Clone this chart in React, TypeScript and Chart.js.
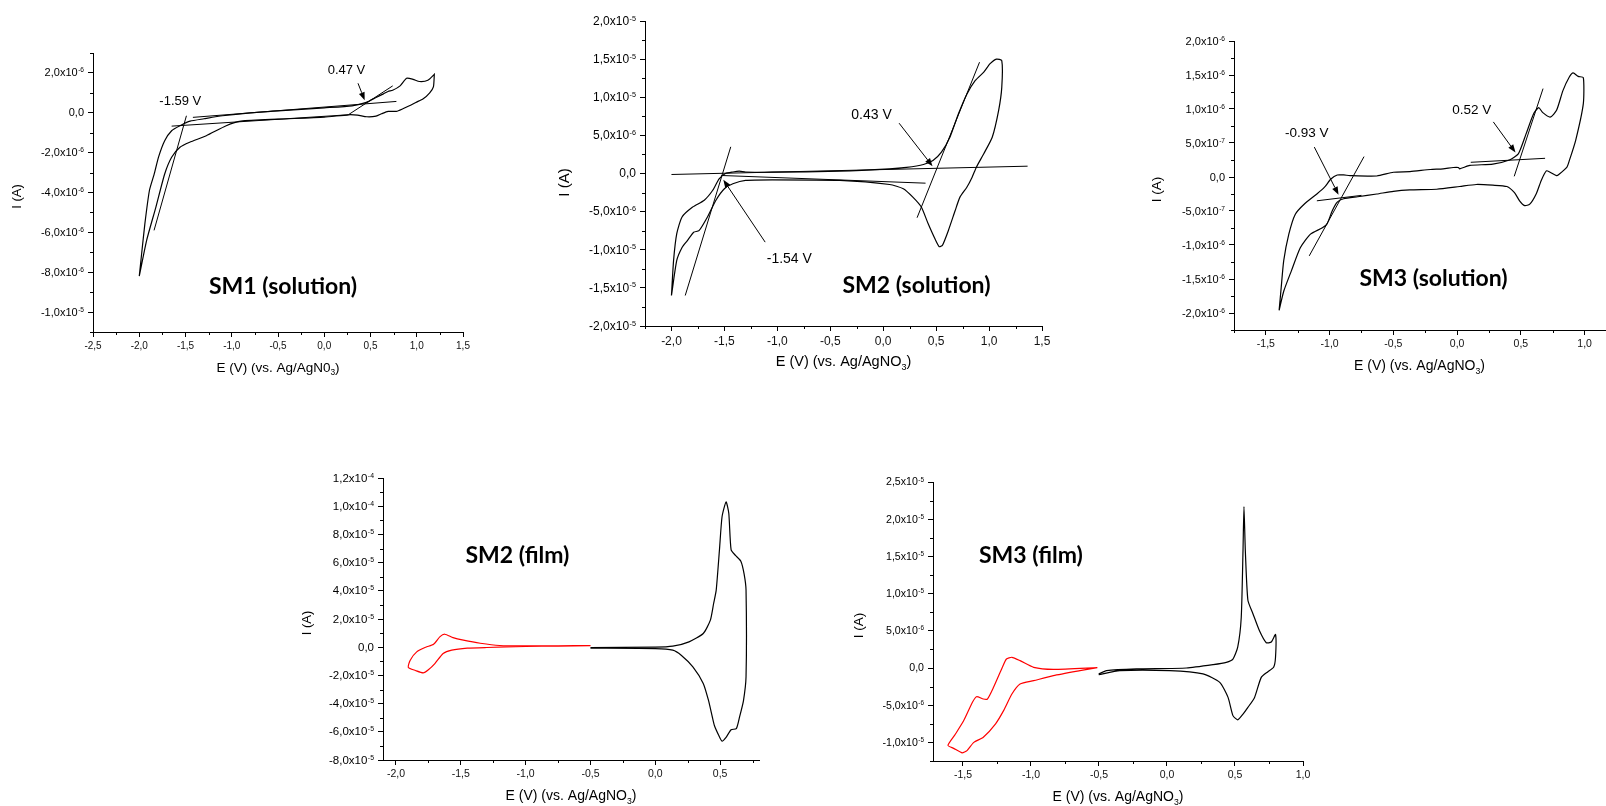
import React, { useEffect, useRef } from "react";
import { Chart, registerables } from "chart.js";
Chart.register(...registerables);

const UA = 1e-6; // data currents are stored in µA

// ---------- SM1 (solution) ----------
const SM1_E = [-2.0, -1.977, -1.94, -1.89, -1.84, -1.79, -1.725, -1.65, -1.56, -1.45, -1.3, -1.1, -0.8, -0.5, 0.0, 0.3, 0.455, 0.56, 0.64, 0.69, 0.74, 0.82, 0.89, 0.96, 1.03, 1.12, 1.19,
  1.19, 1.18, 1.14, 1.07, 0.99, 0.92, 0.85, 0.78, 0.69, 0.62, 0.56, 0.46, 0.36, 0.26, 0.0, -0.5, -0.9, -1.06, -1.275, -1.455, -1.56, -1.65, -1.725, -1.82, -1.92, -2.0];
const SM1_I = [-8.2, -7.2, -5.6, -3.9, -3.1, -2.2, -1.4, -0.9, -0.65, -0.42, -0.3, -0.15, 0.0, 0.1, 0.25, 0.35, 0.52, 0.77, 0.95, 1.07, 1.13, 1.35, 1.73, 1.68, 1.57, 1.63, 1.93,
  1.93, 1.3, 1.0, 0.7, 0.52, 0.35, 0.2, 0.07, 0.07, -0.05, -0.17, -0.2, -0.12, -0.1, -0.22, -0.32, -0.42, -0.65, -1.15, -1.48, -1.73, -2.23, -3.07, -4.73, -6.4, -8.2];
const SM1_TAN_E = [[-1.42, 0.78], [-1.65, 0.26], [-1.49, -1.84], [0.26, 0.74]];
const SM1_TAN_I = [[-0.23, 0.57], [-0.67, -0.1], [-0.15, -5.9], [-0.1, 1.35]];
const SM1_XTICKS = [-2.5, -2.0, -1.5, -1.0, -0.5, 0.0, 0.5, 1.0, 1.5];
const SM1_YTICKS = [-10, -8, -6, -4, -2, 0, 2];

// ---------- SM2 (solution) ----------
const SM2_E = [-2.0, -1.98, -1.95, -1.9, -1.8, -1.69, -1.61, -1.55, -1.49, -1.42, -1.36, -1.3, -1.05, -0.41, 0.06, 0.22, 0.38, 0.47, 0.55, 0.63, 0.71, 0.79, 0.87, 0.95, 1.01, 1.07, 1.12,
  1.12, 1.09, 1.03, 0.95, 0.88, 0.84, 0.79, 0.725, 0.68, 0.615, 0.56, 0.53, 0.49, 0.425, 0.36, 0.28, 0.19, 0.06, -0.41, -1.05, -1.3, -1.42, -1.5, -1.58, -1.66, -1.74, -1.79, -1.85, -1.9, -1.95, -2.0];
const SM2_I = [-16.0, -11.4, -7.9, -5.7, -4.4, -3.5, -2.2, -0.7, 0.0, 0.2, 0.3, 0.2, 0.17, 0.3, 0.6, 0.8, 1.18, 1.7, 2.8, 4.76, 7.8, 10.4, 12.2, 13.3, 14.4, 15.0, 14.8,
  11.3, 8.25, 4.76, 2.6, 0.83, -0.48, -1.8, -3.1, -4.85, -7.5, -9.4, -9.6, -8.6, -6.6, -4.4, -3.1, -2.0, -1.44, -0.9, -0.83, -0.9, -1.35, -2.0, -3.5, -5.7, -7.5, -7.7, -8.8, -9.7, -11.4, -16.0];
const SM2_TAN_E = [[-2.0, 1.364], [-1.53, 0.4], [-1.87, -1.44], [0.32, 0.91]];
const SM2_TAN_I = [[-0.13, 0.96], [-0.26, -1.27], [-16.0, 3.5], [-5.8, 14.6]];
const SM2_XTICKS = [-2.0, -1.5, -1.0, -0.5, 0.0, 0.5, 1.0, 1.5];
const SM2_YTICKS = [-20, -15, -10, -5, 0, 5, 10, 15, 20];

// ---------- SM3 (solution) ----------
const SM3_E = [-1.396, -1.38, -1.36, -1.32, -1.27, -1.2, -1.1, -1.04, -0.99, -0.94, -0.89, -0.84, -0.63, -0.5, -0.37, -0.21, -0.11, -0.03, 0.01, 0.02, 0.1, 0.28, 0.41, 0.48, 0.54, 0.6, 0.64, 0.67, 0.73, 0.78, 0.83, 0.88, 0.91, 0.95, 0.99,
  0.99, 0.93, 0.88, 0.86, 0.8, 0.78, 0.73, 0.7, 0.66, 0.62, 0.57, 0.53, 0.49, 0.45, 0.39, 0.28, 0.15, 0.02, -0.16, -0.37, -0.5, -0.63, -0.78, -0.89, -0.94, -0.98, -1.02, -1.06, -1.15, -1.23, -1.3, -1.36, -1.396];
const SM3_I = [-1.96, -1.63, -1.23, -0.84, -0.55, -0.4, -0.25, -0.15, -0.03, 0.03, 0.03, 0.02, 0.015, 0.07, 0.08, 0.11, 0.12, 0.14, 0.14, 0.12, 0.17, 0.19, 0.25, 0.34, 0.63, 0.93, 1.02, 0.95, 0.88, 0.98, 1.27, 1.47, 1.53, 1.48, 1.46,
  1.08, 0.54, 0.24, 0.14, 0.04, 0.02, 0.07, 0.09, -0.05, -0.25, -0.4, -0.42, -0.35, -0.23, -0.14, -0.12, -0.11, -0.14, -0.18, -0.19, -0.21, -0.25, -0.29, -0.32, -0.37, -0.5, -0.69, -0.75, -0.84, -1.04, -1.38, -1.68, -1.96];
const SM3_TAN_E = [[-1.1, -0.75], [-1.16, -0.73], [0.107, 0.69], [0.448, 0.674]];
const SM3_TAN_I = [[-0.35, -0.27], [-1.16, 0.3], [0.216, 0.275], [0.01, 1.3]];
const SM3_XTICKS = [-1.5, -1.0, -0.5, 0.0, 0.5, 1.0];
const SM3_YTICKS = [-2.0, -1.5, -1.0, -0.5, 0.0, 0.5, 1.0, 1.5, 2.0];

// ---------- SM2 (film) ----------
const SM2F_RED_E = [-0.5, -0.75, -1.0, -1.2, -1.35, -1.48, -1.56, -1.623, -1.66, -1.71, -1.77, -1.84, -1.89, -1.905, -1.85, -1.79, -1.75, -1.7, -1.636, -1.57, -1.45, -1.3, -1.0, -0.75, -0.5];
const SM2F_RED_I = [1.2, 1.0, 0.9, 1.2, 2.8, 5.0, 6.8, 9.2, 7.5, 2.1, 0.0, -3.3, -9.2, -14.4, -16.5, -18.2, -16.0, -11.6, -4.5, -2.1, -0.7, -0.2, 0.5, 0.8, 0.9];
const SM2F_BLK_E = [-0.5, 0.0, 0.135, 0.26, 0.37, 0.425, 0.45, 0.47, 0.495, 0.515, 0.546, 0.567, 0.585, 0.62, 0.66, 0.685, 0.7, 0.7, 0.68, 0.65, 0.625, 0.585, 0.546, 0.515, 0.49, 0.456, 0.44, 0.41, 0.37, 0.29, 0.2, 0.135, 0.0, -0.5];
const SM2F_BLK_I = [-0.2, 0.0, 0.7, 3.8, 9.7, 19.2, 31, 40.5, 69, 92.5, 103, 95, 69, 65, 61, 52, 40.5, -21, -38, -49.5, -57.8, -58.5, -63.9, -66.6, -62.6, -55.5, -49.5, -37.6, -25.7, -14, -5.7, -2.1, -1.0, -0.7];
const SM2F_XTICKS = [-2.0, -1.5, -1.0, -0.5, 0.0, 0.5];
const SM2F_YTICKS = [-80, -60, -40, -20, 0, 20, 40, 60, 80, 100, 120];

// ---------- SM3 (film) ----------
const SM3F_RED_E = [-0.512, -0.835, -0.98, -1.08, -1.14, -1.18, -1.21, -1.275, -1.32, -1.35, -1.4, -1.43, -1.495, -1.556, -1.61, -1.568, -1.507, -1.47, -1.42, -1.35, -1.26, -1.2, -1.14, -1.08, -0.98, -0.835, -0.64, -0.512];
const SM3F_RED_I = [0.05, -0.18, 0.09, 0.99, 1.44, 1.21, 0.09, -2.6, -4.17, -4.17, -3.86, -4.6, -7.1, -8.9, -10.4, -10.8, -11.4, -11.1, -10.0, -9.3, -7.5, -5.7, -3.5, -2.15, -1.7, -1.03, -0.36, 0.05];
const SM3F_BLK_E = [-0.502, -0.444, -0.224, 0.143, 0.34, 0.436, 0.485, 0.52, 0.546, 0.559, 0.566, 0.576, 0.595, 0.632, 0.68, 0.73, 0.767, 0.798, 0.798, 0.784, 0.742, 0.693, 0.644, 0.595, 0.559, 0.52, 0.485, 0.449, 0.388, 0.265, 0.02, -0.346, -0.502];
const SM3F_BLK_I = [-0.8, -0.36, -0.13, 0.0, 0.45, 0.76, 1.2, 2.8, 6.8, 15.8, 21.7, 15.8, 9.1, 7.3, 5.0, 3.4, 3.5, 4.5, 1.44, 0.09, -0.5, -1.26, -3.95, -5.3, -6.2, -6.96, -6.4, -3.95, -1.93, -0.8, -0.36, -0.36, -0.9];
const SM3F_XTICKS = [-1.5, -1.0, -0.5, 0.0, 0.5, 1.0];
const SM3F_YTICKS = [-10, -5, 0, 5, 10, 15, 20, 25];

// ---------- layout / style ----------
const FONT = '"Liberation Sans", Arial, sans-serif';
const TITLE_FONT = 'Lato, "Open Sans", sans-serif';
const YW = 95;
const XH = 52;
const PT = 12;

type Note = { text: string; e: number; i: number };
type Arrow = { e: number[]; i: number[] };
type Curve = { e: number[]; i: number[]; color: string };
type Panel = {
  id: string;
  area: number[];
  padR: number;
  xRange: number[];
  yRange: number[];
  xTicks: number[];
  yTicks: number[];
  curves: Curve[];
  tanE: number[][];
  tanI: number[][];
  notes: Note[];
  arrows: Arrow[];
  name: Note;
  fx: number; fy: number; fTitle: number; fYTitle: number; fNote: number;
  yTitleDx: number; yTitleDy: number;
  ref: string;
};

const PANELS: Panel[] = [
  {
    id: "sm1", area: [93, 53, 463, 332], padR: 15,
    xRange: [-2.5, 1.5], yRange: [-11, 3], xTicks: SM1_XTICKS, yTicks: SM1_YTICKS,
    curves: [{ e: SM1_E, i: SM1_I, color: "#000" }], tanE: SM1_TAN_E, tanI: SM1_TAN_I,
    notes: [{ text: "0.47 V", e: 0.24, i: 2.13 }, { text: "-1.59 V", e: -1.556, i: 0.57 }],
    arrows: [{ e: [0.365, 0.437], i: [1.48, 0.63] }],
    name: { text: "SM1 (solution)", e: -0.446, i: -8.73 },
    fx: 10, fy: 11, fTitle: 13.5, fYTitle: 13, fNote: 13, yTitleDx: 76, yTitleDy: 4, ref: "AgN0",
  },
  {
    id: "sm2", area: [645, 21, 1042, 326], padR: 15,
    xRange: [-2.25, 1.5], yRange: [-20, 20], xTicks: SM2_XTICKS, yTicks: SM2_YTICKS,
    curves: [{ e: SM2_E, i: SM2_I, color: "#000" }], tanE: SM2_TAN_E, tanI: SM2_TAN_I,
    notes: [{ text: "0.43 V", e: -0.11, i: 7.6 }, { text: "-1.54 V", e: -0.887, i: -11.2 }],
    arrows: [{ e: [0.15, 0.466], i: [6.6, 0.96] }, { e: [-1.115, -1.51], i: [-9.0, -0.83] }],
    name: { text: "SM2 (solution)", e: 0.314, i: -14.7 },
    fx: 12, fy: 12, fTitle: 14.5, fYTitle: 15, fNote: 14, yTitleDx: 80, yTitleDy: 9, ref: "AgNO",
  },
  {
    id: "sm3", area: [1234, 41, 1605, 330], padR: 1,
    xRange: [-1.75, 1.16], yRange: [-2.25, 2.0], xTicks: SM3_XTICKS, yTicks: SM3_YTICKS,
    curves: [{ e: SM3_E, i: SM3_I, color: "#000" }], tanE: SM3_TAN_E, tanI: SM3_TAN_I,
    notes: [{ text: "-0.93 V", e: -1.18, i: 0.64 }, { text: "0.52 V", e: 0.115, i: 0.98 }],
    arrows: [{ e: [-1.12, -0.93], i: [0.44, -0.26] }, { e: [0.284, 0.458], i: [0.81, 0.36] }],
    name: { text: "SM3 (solution)", e: -0.185, i: -1.5 },
    fx: 10.5, fy: 11, fTitle: 14, fYTitle: 13.5, fNote: 13.5, yTitleDx: 77, yTitleDy: 4, ref: "AgNO",
  },
  {
    id: "sm2f", area: [383, 478, 759, 760], padR: 15,
    xRange: [-2.1, 0.8], yRange: [-80, 120], xTicks: SM2F_XTICKS, yTicks: SM2F_YTICKS,
    curves: [{ e: SM2F_RED_E, i: SM2F_RED_I, color: "#ff0000" }, { e: SM2F_BLK_E, i: SM2F_BLK_I, color: "#000" }],
    tanE: [], tanI: [], notes: [], arrows: [],
    name: { text: "SM2 (film)", e: -1.063, i: 65.3 },
    fx: 10.5, fy: 11.5, fTitle: 14, fYTitle: 13, fNote: 13, yTitleDx: 76, yTitleDy: 4, ref: "AgNO",
  },
  {
    id: "sm3f", area: [933, 482, 1303, 761], padR: 15,
    xRange: [-1.72, 1.0], yRange: [-12.5, 25], xTicks: SM3F_XTICKS, yTicks: SM3F_YTICKS,
    curves: [{ e: SM3F_RED_E, i: SM3F_RED_I, color: "#ff0000" }, { e: SM3F_BLK_E, i: SM3F_BLK_I, color: "#000" }],
    tanE: [], tanI: [], notes: [], arrows: [],
    name: { text: "SM3 (film)", e: -1.0, i: 15.1 },
    fx: 10.5, fy: 10.6, fTitle: 14, fYTitle: 13.5, fNote: 13, yTitleDx: 74, yTitleDy: 4, ref: "AgNO",
  },
];

function sciParts(uA: number): [string, string] {
  const v = uA * UA;
  if (Math.abs(v) < 1e-15) return ["0,0", ""];
  const ex = Math.floor(Math.log10(Math.abs(v)) + 1e-9);
  const m = v / Math.pow(10, ex);
  return [m.toFixed(1).replace(".", ",") + "x10", String(ex)];
}

function minorTicks(major: number[], lo: number, hi: number): number[] {
  const step = major[1] - major[0];
  const out: number[] = [];
  for (let v = major[0] - step / 2 - step * 10; v <= hi + 1e-9; v += step) {
    if (v >= lo - 1e-9) out.push(v);
  }
  return out;
}

function fmtX(v: number): string {
  const s = Number(v).toFixed(1).replace(".", ",");
  return s === "-0,0" ? "0,0" : s;
}

function makeDeco(p: Panel) {
  return {
    id: "deco_" + p.id,
    afterDraw(chart: any) {
      const ctx: CanvasRenderingContext2D = chart.ctx;
      const xs = chart.scales.x;
      const ys = chart.scales.y;
      const ca = chart.chartArea;
      const X = (e: number) => xs.getPixelForValue(e);
      const Y = (i: number) => ys.getPixelForValue(i * UA);
      ctx.save();
      ctx.strokeStyle = "#000";
      ctx.fillStyle = "#000";
      ctx.lineWidth = 1;
      // minor ticks
      for (const v of minorTicks(p.xTicks, p.xRange[0], p.xRange[1])) {
        const px = Math.round(X(v)) + 0.5;
        ctx.beginPath();
        ctx.moveTo(px, ca.bottom);
        ctx.lineTo(px, ca.bottom + 3);
        ctx.stroke();
      }
      for (const v of minorTicks(p.yTicks, p.yRange[0], p.yRange[1])) {
        const py = Math.round(Y(v)) + 0.5;
        ctx.beginPath();
        ctx.moveTo(ca.left, py);
        ctx.lineTo(ca.left - 3, py);
        ctx.stroke();
      }
      // y tick labels with superscript exponents
      const xr = ca.left - 9;
      for (const t of p.yTicks) {
        const y = Y(t);
        const [base, ex] = sciParts(t);
        ctx.textAlign = "right";
        let ew = 0;
        if (ex) {
          ctx.font = `${(p.fy * 0.6).toFixed(1)}px ${FONT}`;
          ctx.textBaseline = "alphabetic";
          ctx.fillText(ex, xr, y - 0.5);
          ew = ctx.measureText(ex).width + 0.5;
        }
        ctx.font = `${p.fy}px ${FONT}`;
        ctx.textBaseline = "middle";
        ctx.fillText(base, xr - ew, y + 0.5);
      }
      // x title with subscript
      const cx = (ca.left + ca.right) / 2;
      const ty = ca.bottom + 36;
      const main = `E (V) (vs. Ag/${p.ref}`;
      ctx.font = `${p.fTitle}px ${FONT}`;
      const w1 = ctx.measureText(main).width;
      const w3 = ctx.measureText(")").width;
      ctx.font = `${(p.fTitle * 0.62).toFixed(1)}px ${FONT}`;
      const w2 = ctx.measureText("3").width;
      let sx = cx - (w1 + w2 + w3) / 2;
      ctx.textAlign = "left";
      ctx.textBaseline = "middle";
      ctx.font = `${p.fTitle}px ${FONT}`;
      ctx.fillText(main, sx, ty);
      ctx.font = `${(p.fTitle * 0.62).toFixed(1)}px ${FONT}`;
      ctx.fillText("3", sx + w1, ty + p.fTitle * 0.38);
      ctx.font = `${p.fTitle}px ${FONT}`;
      ctx.fillText(")", sx + w1 + w2, ty);
      // y title
      ctx.save();
      ctx.translate(ca.left - p.yTitleDx, (ca.top + ca.bottom) / 2 + p.yTitleDy);
      ctx.rotate(-Math.PI / 2);
      ctx.textAlign = "center";
      ctx.textBaseline = "middle";
      ctx.font = `${p.fYTitle}px ${FONT}`;
      ctx.fillText("I (A)", 0, 0);
      ctx.restore();
      // notes
      ctx.textAlign = "center";
      ctx.textBaseline = "middle";
      ctx.font = `${p.fNote}px ${FONT}`;
      for (const n of p.notes) ctx.fillText(n.text, X(n.e), Y(n.i));
      // arrows
      for (const a of p.arrows) {
        const x0 = X(a.e[0]), y0 = Y(a.i[0]), x1 = X(a.e[1]), y1 = Y(a.i[1]);
        const ang = Math.atan2(y1 - y0, x1 - x0);
        const L = 8, W = 3;
        const bx = x1 - L * Math.cos(ang), by = y1 - L * Math.sin(ang);
        ctx.beginPath();
        ctx.moveTo(x0, y0);
        ctx.lineTo(bx, by);
        ctx.stroke();
        ctx.beginPath();
        ctx.moveTo(x1, y1);
        ctx.lineTo(bx + W * Math.sin(ang), by - W * Math.cos(ang));
        ctx.lineTo(bx - W * Math.sin(ang), by + W * Math.cos(ang));
        ctx.closePath();
        ctx.fill();
      }
      // panel name
      ctx.font = `bold 23px ${TITLE_FONT}`;
      ctx.fillText(p.name.text, X(p.name.e), Y(p.name.i));
      ctx.restore();
    },
  };
}

function PanelChart({ p }: { p: Panel }) {
  const ref = useRef<HTMLCanvasElement | null>(null);
  const left = p.area[0] - YW;
  const top = p.area[1] - PT;
  const width = p.area[2] - p.area[0] + YW + p.padR;
  const height = p.area[3] - p.area[1] + PT + XH;

  useEffect(() => {
    if (!ref.current) return;
    const datasets: any[] = [];
    for (const c of p.curves) {
      datasets.push({
        data: c.e.map((e, k) => ({ x: e, y: c.i[k] * UA })),
        showLine: true, borderColor: c.color, borderWidth: 1.2, pointRadius: 0, tension: 0.2, fill: false,
      });
    }
    p.tanE.forEach((es, k) => {
      datasets.push({
        data: es.map((e, j) => ({ x: e, y: p.tanI[k][j] * UA })),
        showLine: true, borderColor: "#000", borderWidth: 1, pointRadius: 0, tension: 0, fill: false,
      });
    });
    const grid = { display: true, drawOnChartArea: false, drawTicks: true, tickLength: 5, color: "#000", lineWidth: 1 };
    const border = { display: true, color: "#000", width: 1 };
    const chart = new Chart(ref.current, {
      type: "scatter",
      data: { datasets },
      options: {
        animation: false,
        responsive: false,
        maintainAspectRatio: false,
        events: [],
        layout: { padding: { top: PT, right: p.padR, left: 0, bottom: 0 } },
        plugins: { legend: { display: false }, tooltip: { enabled: false } },
        scales: {
          x: {
            type: "linear", position: "bottom",
            min: p.xRange[0], max: p.xRange[1],
            afterBuildTicks: (s: any) => { s.ticks = p.xTicks.map((v) => ({ value: v })); },
            afterFit: (s: any) => { s.height = XH; },
            ticks: {
              autoSkip: false, maxRotation: 0, minRotation: 0, color: "#111", padding: 3,
              font: { family: FONT, size: p.fx },
              callback: (v: any) => fmtX(Number(v)),
            },
            grid, border,
          },
          y: {
            type: "linear", position: "left",
            min: p.yRange[0] * UA, max: p.yRange[1] * UA,
            afterBuildTicks: (s: any) => { s.ticks = p.yTicks.map((v) => ({ value: v * UA })); },
            afterFit: (s: any) => { s.width = YW; },
            ticks: { display: false },
            grid, border,
          },
        },
      } as any,
      plugins: [makeDeco(p)],
    });
    return () => chart.destroy();
  }, [p]);

  return (
    <canvas
      ref={ref}
      width={width}
      height={height}
      style={{ position: "absolute", left, top, width, height }}
    />
  );
}

export default function App() {
  return (
    <div style={{ position: "fixed", left: 0, top: 0, width: 1606, height: 806, overflow: "hidden", background: "#fff" }}>
      {PANELS.map((p) => (
        <PanelChart key={p.id} p={p} />
      ))}
    </div>
  );
}
